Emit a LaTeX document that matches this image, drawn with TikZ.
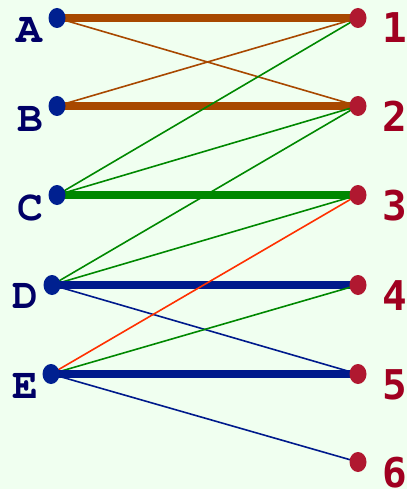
\documentclass[tikz,border=0pt]{standalone}
\usepackage[T1]{fontenc}
\usepackage{fontspec}
\newfontfamily\digitfont{DejaVu Sans Mono}
\newcommand{\letterfont}{\fontencoding{T1}\fontfamily{pcr}\fontseries{b}\selectfont}
\usetikzlibrary{shapes.geometric}
\definecolor{bgmint}{RGB}{240,255,240}
\definecolor{dotblue}{RGB}{0,32,144}
\definecolor{dotred}{RGB}{176,24,48}
\definecolor{lblblue}{RGB}{0,0,102}
\definecolor{lblred}{RGB}{160,0,32}
\definecolor{edgebrown}{RGB}{168,72,0}
\definecolor{edgegreen}{RGB}{0,136,0}
\definecolor{edgeblue}{RGB}{0,26,140}
\definecolor{edgered}{RGB}{255,48,0}
\pgfdeclarelayer{back}
\pgfdeclarelayer{bg}
\pgfsetlayers{back,bg,main}

\begin{document}
\begin{tikzpicture}[x=1pt,y=-1pt,
    dot/.style={ellipse,inner sep=0pt,minimum width=17pt,minimum height=20pt},
    ldot/.style={dot,fill=dotblue},
    rdot/.style={dot,fill=dotred},
    llabel/.style={anchor=base,text=lblblue,font=\fontsize{43}{43}\letterfont},
    rlabel/.style={anchor=base,text=lblred,font=\fontsize{41}{41}\selectfont\digitfont\bfseries},
    weak/.style={line width=1.6pt},
    strong/.style={line width=7.5pt}]
    % background
    \begin{pgfonlayer}{back}
      \fill[bgmint] (0,0) rectangle (407,489);
    \end{pgfonlayer}
    \useasboundingbox (0,0) rectangle (407,489);
    % left side
    \node[ldot] (A) at (57,18) {};
    \node[ldot] (B) at (57,106) {};
    \node[ldot] (C) at (57,195) {};
    \node[ldot] (D) at (52,285) {};
    \node[ldot] (E) at (51,374) {};
    \node[llabel] (lA) at (29,43) {A};
    \node[llabel] (lB) at (30,132) {B};
    \node[llabel] (lC) at (30,220) {C};
    \node[llabel] (lD) at (25,308) {D};
    \node[llabel] (lE) at (25,398) {E};
    % right side
    \node[rdot] (n1) at (358,18) {};
    \node[rdot] (n2) at (358,106) {};
    \node[rdot] (n3) at (358,195) {};
    \node[rdot] (n4) at (358,285) {};
    \node[rdot] (n5) at (358,374) {};
    \node[rdot] (n6) at (358,462) {};
    \node[rlabel] (l1) at (395,43) {1};
    \node[rlabel] (l2) at (395,132) {2};
    \node[rlabel] (l3) at (395,220) {3};
    \node[rlabel] (l4) at (395,310) {4};
    \node[rlabel] (l5) at (395,399) {5};
    \node[rlabel] (l6) at (395,487) {6};
    % edges behind the dots
    \begin{pgfonlayer}{bg}
      \draw[strong,edgebrown] (A.center) -- (n1.center);
      \draw[weak,edgebrown] (A.center) -- (n2.center);
      \draw[weak,edgebrown] (B.center) -- (n1.center);
      \draw[strong,edgebrown] (B.center) -- (n2.center);
      \draw[weak,edgegreen] (C.center) -- (n1.center);
      \draw[weak,edgegreen] (C.center) -- (n2.center);
      \draw[strong,edgegreen] (C.center) -- (n3.center);
      \draw[weak,edgegreen] (D.center) -- (n2.center);
      \draw[weak,edgegreen] (D.center) -- (n3.center);
      \draw[strong,edgeblue] (D.center) -- (n4.center);
      \draw[weak,edgeblue] (D.center) -- (n5.center);
      \draw[weak,edgered] (E.center) -- (n3.center);
      \draw[weak,edgegreen] (E.center) -- (n4.center);
      \draw[strong,edgeblue] (E.center) -- (n5.center);
      \draw[weak,edgeblue] (E.center) -- (n6.center);
    \end{pgfonlayer}
\end{tikzpicture}
\end{document}
